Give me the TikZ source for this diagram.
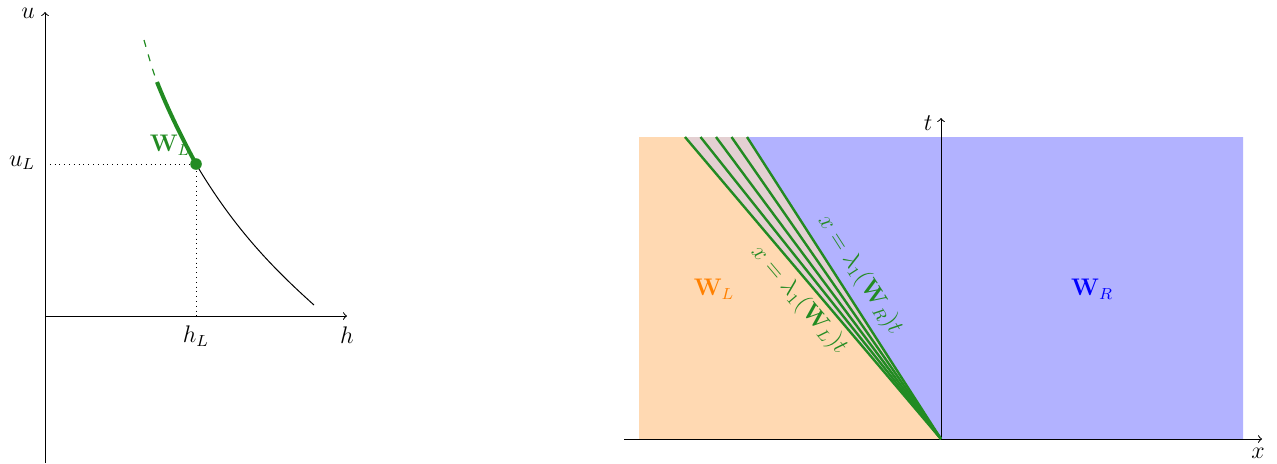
\documentclass[tikz,border=0pt]{standalone}
\usepackage{amsmath}
\definecolor{fgreen}{RGB}{34,139,34}
\definecolor{fanc}{RGB}{228,208,210}
\begin{document}
\begin{tikzpicture}[x=0.5pt,y=-0.5pt,
  every node/.style={font=\fontsize{12}{14}\selectfont},
  axis/.style={line width=0.5pt,->},
  fanline/.style={fgreen,line width=1.2pt},
  lbl/.style={fgreen,sloped,inner sep=1pt}]
\useasboundingbox (0,0) rectangle (1277,463);
% ---------- left plot ----------
\coordinate (O1) at (45,316);
\coordinate (hend) at (347,316);
\coordinate (ubot) at (45,463);
\coordinate (utop) at (45,12);
\coordinate (WL) at (196,164);
\coordinate (uL) at (45,164);
\coordinate (hL) at (196,316);
\coordinate (d0) at (144,40);
\coordinate (g0) at (157,82);
\coordinate (b1) at (314,305);
\draw[axis] (ubot) -- (utop);
\draw[axis] (O1) -- (hend);
\draw[dotted] (uL) -- (WL) -- (hL);
\draw[black,line width=0.5pt] (WL) .. controls (235,230) and (275,270) .. (b1);
\draw[fgreen,line width=0.6pt,dash pattern=on 3.5pt off 4pt] (d0) .. controls (148.5,55.5) and (152.5,70.3) .. (g0);
\draw[fgreen,line width=2pt] (g0) .. controls (168,110) and (182,138) .. (WL);
\fill[fgreen] (WL) circle (2.9pt);
\node (lu) at (28,13) {$u$};
\node (lh) at (347,335) {$h$};
\node (luL) at (22,163) {$u_L$};
\node (lhL) at (196,336) {$h_L$};
\node[fgreen] (lWL) at (170,145) {$\mathbf{W}_L$};
% ---------- right plot ----------
\coordinate (O2) at (941,439);
\coordinate (f1) at (685,137);
\coordinate (f2) at (700.5,137);
\coordinate (f3) at (716,137);
\coordinate (f4) at (731.5,137);
\coordinate (f5) at (747,137);
\fill[orange!30] (639,137) -- (f1) -- (O2) -- (639,439) -- cycle;
\fill[fanc] (f1) -- (f5) -- (O2) -- cycle;
\fill[blue!30] (f5) -- (1243,137) -- (1243,439) -- (O2) -- cycle;
\draw[axis] (624,439) -- (1262,439);
\draw[axis] (O2) -- (941,118);
\foreach \p in {f1,f2,f3,f4,f5} \draw[fanline] (O2) -- (\p);
\path (O2) -- (f1) node[lbl,pos=0.5,below=2pt] (lamL) {$x=\lambda_1(\mathbf{W}_L)t$};
\path (O2) -- (f5) node[lbl,pos=0.507,above=3pt] (lamR) {$x=\lambda_1(\mathbf{W}_R)t$};
\node (lt) at (928,123) {$t$};
\node (lx) at (1258,453) {$x$};
\node[orange] (rWL) at (714,289) {$\mathbf{W}_L$};
\node[blue] (rWR) at (1092,289) {$\mathbf{W}_R$};
\end{tikzpicture}
\end{document}
